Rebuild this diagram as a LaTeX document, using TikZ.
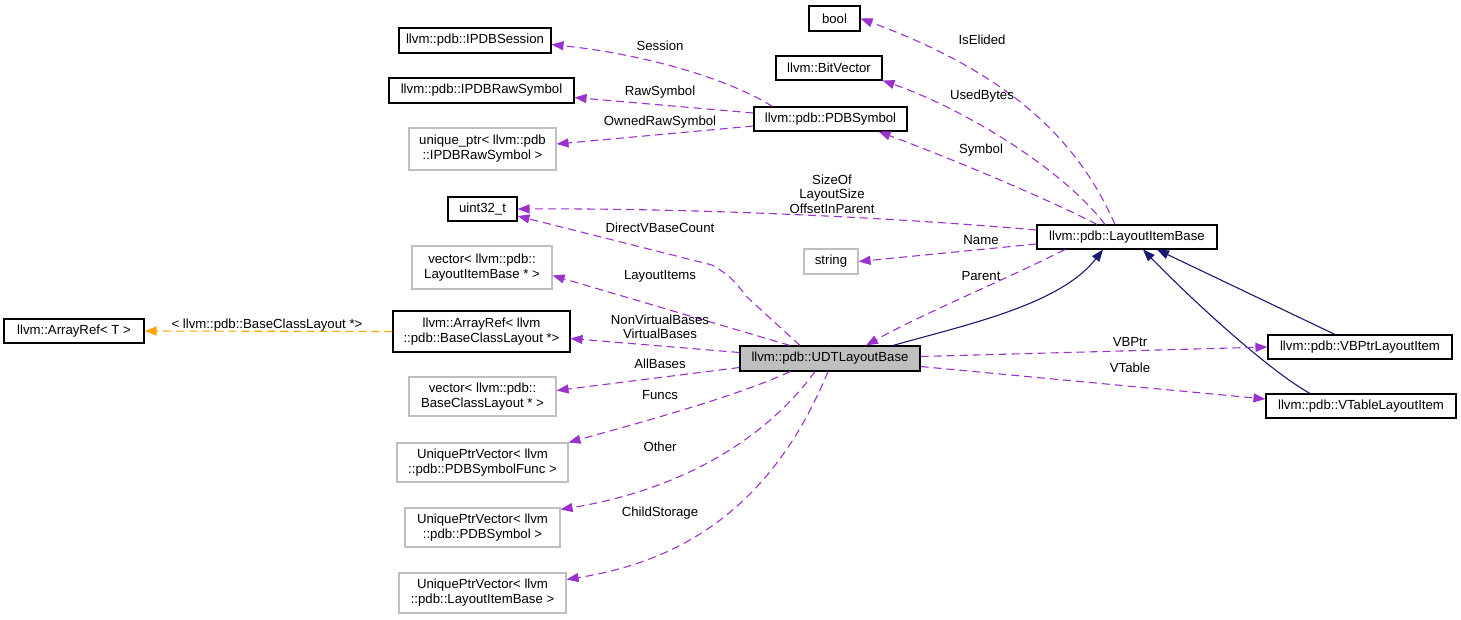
\documentclass[tikz,border=0pt]{standalone}
\usepackage{fontspec}
\setmainfont{Liberation Sans}
\usetikzlibrary{arrows.meta}
\definecolor{usecol}{HTML}{9A32CD}
\definecolor{tmplcol}{HTML}{FFA500}
\definecolor{inhcol}{HTML}{191970}
\definecolor{graybd}{HTML}{BFBFBF}
\tikzset{
  box/.style={draw=black, line width=1.1pt, inner sep=0pt, align=center, font=\fontsize{13.2}{15}\selectfont},
  gbox/.style={box, draw=graybd},
  use/.style={draw=usecol, line width=1.1pt, dash pattern=on 8pt off 5pt, -{Triangle[length=12pt,width=9pt]}},
  tmpl/.style={draw=tmplcol, line width=1.1pt, dash pattern=on 8pt off 5pt, -{Triangle[length=12pt,width=9pt]}},
  inh/.style={draw=inhcol, line width=1.1pt, -{Triangle[length=12pt,width=9pt]}},
  lab/.style={inner sep=0pt, align=center, font=\fontsize{13.2}{14.5}\selectfont}
}
\begin{document}
\begin{tikzpicture}[x=1pt,y=-1pt]
\useasboundingbox (0,0) rectangle (1461,619);
% nodes
\node[box, minimum width=51pt, minimum height=25pt] (bool) at (834.5,18.5) {bool};
\node[box, minimum width=152pt, minimum height=25pt] (session) at (475,40.5) {llvm::pdb::IPDBSession};
\node[box, minimum width=106pt, minimum height=24pt] (bitvec) at (829,68) {llvm::BitVector};
\node[box, minimum width=185pt, minimum height=25pt] (rawsym) at (481.5,90.5) {llvm::pdb::IPDBRawSymbol};
\node[box, minimum width=153pt, minimum height=24pt] (pdbsym) at (830.5,119) {llvm::pdb::PDBSymbol};
\node[gbox, minimum width=147pt, minimum height=42pt] (uptr) at (482.5,149) {unique\_ptr< llvm::pdb\\::IPDBRawSymbol >};
\node[box, minimum width=69pt, minimum height=24pt] (uint) at (482.5,209) {uint32\_t};
\node[gbox, minimum width=140pt, minimum height=43pt] (vecLIB) at (482,267.5) {vector< llvm::pdb::\\LayoutItemBase * >};
\node[gbox, minimum width=54pt, minimum height=25pt] (string) at (831,261.5) {string};
\node[box, minimum width=180pt, minimum height=24pt] (LIB) at (1127,237) {llvm::pdb::LayoutItemBase};
\node[box, minimum width=140pt, minimum height=24pt] (arrT) at (74,331) {llvm::ArrayRef< T >};
\node[box, minimum width=177pt, minimum height=41pt] (arrB) at (481.5,331.5) {llvm::ArrayRef< llvm\\::pdb::BaseClassLayout *>};
\node[box, fill=graybd, minimum width=180pt, minimum height=25pt] (UDT) at (830,358.5) {llvm::pdb::UDTLayoutBase};
\node[box, minimum width=184pt, minimum height=24pt] (VBPtr) at (1360,347) {llvm::pdb::VBPtrLayoutItem};
\node[box, minimum width=190pt, minimum height=24pt] (VTable) at (1361,406) {llvm::pdb::VTableLayoutItem};
\node[gbox, minimum width=147pt, minimum height=39pt] (vecBCL) at (482.5,396.5) {vector< llvm::pdb::\\BaseClassLayout * >};
\node[gbox, minimum width=171pt, minimum height=39pt] (upvFunc) at (482.5,462.5) {UniquePtrVector< llvm\\::pdb::PDBSymbolFunc >};
\node[gbox, minimum width=155pt, minimum height=39pt] (upvSym) at (482.5,527.5) {UniquePtrVector< llvm\\::pdb::PDBSymbol >};
\node[gbox, minimum width=167pt, minimum height=40pt] (upvLIB) at (482.5,593) {UniquePtrVector< llvm\\::pdb::LayoutItemBase >};
% edges from LayoutItemBase
\draw[use] ([xshift=-12pt]LIB.north) .. controls (1082,150) and (1022,78) .. (bool.east);
\draw[use] ([xshift=-22pt]LIB.north) .. controls (1062,168) and (962,108) .. (bitvec.south east);
\draw[use] ([xshift=-30pt]LIB.north) .. controls (1050,200) and (950,158) .. ([xshift=48pt]pdbsym.south);
\draw[use] ([yshift=7pt]LIB.west) .. controls (900,218) and (700,208) .. (uint.east);
\draw[use] ([yshift=-7pt]LIB.west) -- (string.east);
\draw[use] ([xshift=-62pt]LIB.south) .. controls (1000,282) and (920,315) .. ([xshift=36pt]UDT.north);
% inheritance
\draw[inh] ([xshift=63pt]UDT.north) .. controls (965,325) and (1060,305) .. ([xshift=-24pt]LIB.south);
\draw[inh] ([xshift=-25pt]VBPtr.north) -- ([xshift=30pt]LIB.south);
\draw[inh] ([xshift=-51pt]VTable.north) .. controls (1268,370) and (1192,300) .. ([xshift=16pt]LIB.south);
% from UDTLayoutBase
\draw[use] ([yshift=2pt]UDT.east) -- (VBPtr.west);
\draw[use] ([yshift=-8pt]UDT.east) -- ([yshift=7pt]VTable.west);
\draw[use] ([xshift=-30pt]UDT.north) -- (748,298) .. controls (730,276) .. (712,265) -- ([yshift=-7pt]uint.east);
\draw[use] ([xshift=-40pt]UDT.north) -- ([yshift=-8pt]vecLIB.east);
\draw[use] ([yshift=6pt]UDT.west) -- ([yshift=-7pt]arrB.east);
\draw[use] ([yshift=-9pt]UDT.west) -- ([yshift=6pt]vecBCL.east);
\draw[use] ([xshift=-40pt]UDT.south) .. controls (740,395) and (650,420) .. (upvFunc.north east);
\draw[use] ([xshift=-15pt]UDT.south) .. controls (765,440) and (680,490) .. ([yshift=-2pt]upvSym.north east);
\draw[use] ([xshift=-2pt]UDT.south) .. controls (775,500) and (690,560) .. ([yshift=-7pt]upvLIB.north east);
% from PDBSymbol
\draw[use] ([xshift=-58pt]pdbsym.north) .. controls (730,80) and (650,55) .. ([yshift=-4pt]session.east);
\draw[use] ([yshift=6pt]pdbsym.west) -- ([yshift=-7pt]rawsym.east);
\draw[use] ([yshift=-7pt]pdbsym.west) -- ([yshift=5pt]uptr.east);
% template
\draw[tmpl] (arrB.west) -- (arrT.east);
% labels
\node[lab] (lIsElided) at (982,40) {IsElided};
\node[lab] (lUsedBytes) at (982,96) {UsedBytes};
\node[lab] (lSymbol) at (981,150) {Symbol};
\node[lab] (lSession) at (660,46) {Session};
\node[lab] (lRawSymbol) at (660,92) {RawSymbol};
\node[lab] (lOwned) at (660,122) {OwnedRawSymbol};
\node[lab] (lSizeOf) at (832,194) {SizeOf\\LayoutSize\\OffsetInParent};
\node[lab] (lDirect) at (660,228) {DirectVBaseCount};
\node[lab] (lName) at (981,240) {Name};
\node[lab] (lParent) at (981,276) {Parent};
\node[lab] (lLayoutItems) at (660,276) {LayoutItems};
\node[lab] (lNonVirt) at (660,327) {NonVirtualBases\\VirtualBases};
\node[lab] (lAllBases) at (660,364) {AllBases};
\node[lab] (lFuncs) at (660,395) {Funcs};
\node[lab] (lOther) at (660,447) {Other};
\node[lab] (lChild) at (660,513) {ChildStorage};
\node[lab] (lVBPtr) at (1130,342) {VBPtr};
\node[lab] (lVTable) at (1130,368) {VTable};
\node[lab] (lTmpl) at (267,325) {< llvm::pdb::BaseClassLayout *>};
\end{tikzpicture}
\end{document}
